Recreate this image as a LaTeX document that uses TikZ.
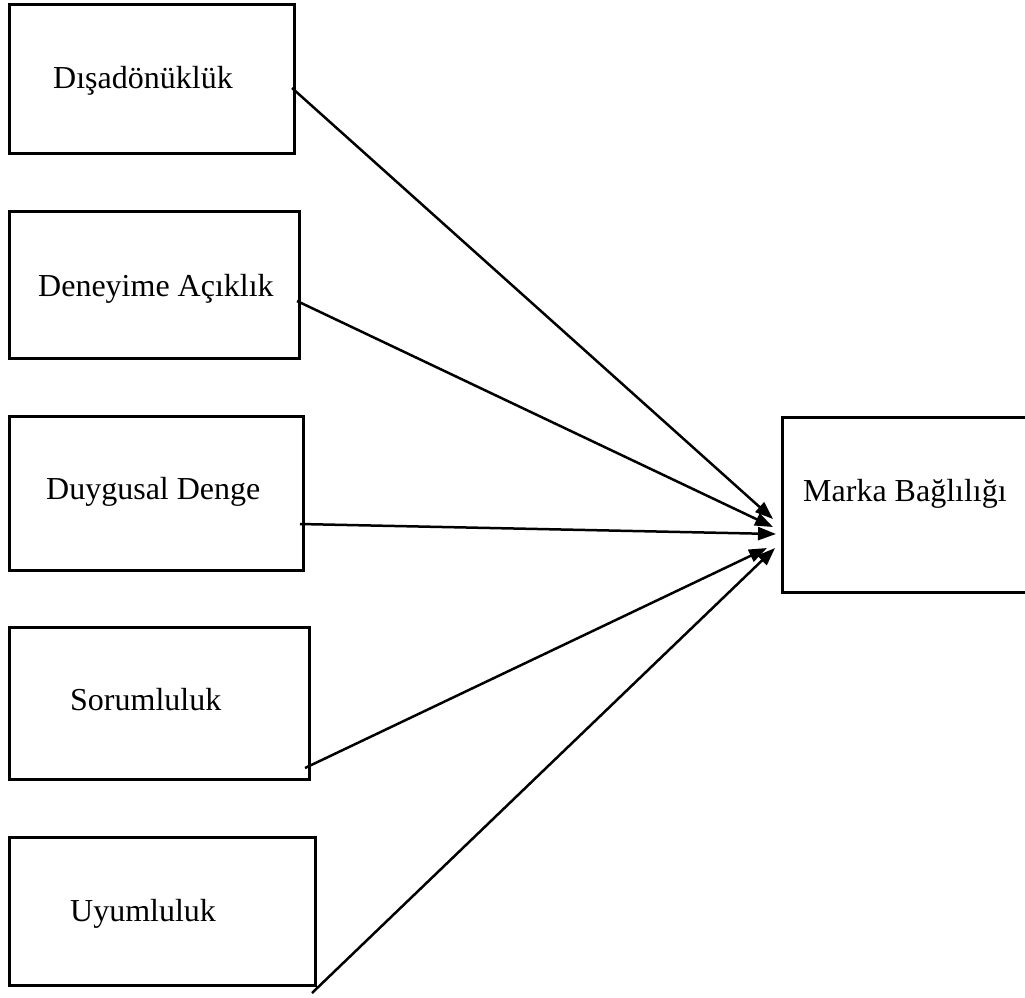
\documentclass[tikz,border=0pt]{standalone}
\usepackage{fontspec}
\setmainfont{Liberation Serif}
\usetikzlibrary{arrows.meta}
\begin{document}
\begin{tikzpicture}[x=1pt,y=-1pt,
  factor/.style={draw,line width=2.8pt,rectangle,inner sep=0pt,anchor=north west},
  lbl/.style={anchor=base west,inner sep=0pt,font=\fontsize{32}{38}\selectfont},
  link/.style={line width=2.5pt,-{Triangle[length=18pt,width=13pt]}}]
\useasboundingbox (0,0) rectangle (1025,997);

% factor boxes on the left
\node[factor,minimum width=285pt,minimum height=149pt] (b1) at (8,3) {};
\node[factor,minimum width=290pt,minimum height=147pt] (b2) at (8,210) {};
\node[factor,minimum width=294pt,minimum height=154pt] (b3) at (8,415) {};
\node[factor,minimum width=300pt,minimum height=152pt] (b4) at (8,626) {};
\node[factor,minimum width=306pt,minimum height=148pt] (b5) at (8,836) {};
% outcome box, running off the right edge
\node[factor,minimum width=260pt,minimum height=175pt] (mb) at (781,416) {};

% box labels
\node[lbl] (l1) at (53,88) {Dışadönüklük};
\node[lbl] (l2) at (38,296) {Deneyime Açıklık};
\node[lbl] (l3) at (46,499) {Duygusal Denge};
\node[lbl] (l4) at (70,710) {Sorumluluk};
\node[lbl] (l5) at (70,921) {Uyumluluk};
\node[lbl] (l6) at (803,501) {Marka Bağlılığı};

% connector end points
\coordinate (s1) at (292,88);
\coordinate (s2) at (297,301);
\coordinate (s3) at (300,524);
\coordinate (s4) at (305,768);
\coordinate (s5) at (312,993);
\coordinate (t1) at (773,519);
\coordinate (t2) at (773,527);
\coordinate (t3) at (776,534);
\coordinate (t4) at (767,548);
\coordinate (t5) at (775,548);

\draw[link] (s1) -- (t1);
\draw[link] (s2) -- (t2);
\draw[link] (s3) -- (t3);
\draw[link] (s4) -- (t4);
\draw[link] (s5) -- (t5);
\end{tikzpicture}
\end{document}
